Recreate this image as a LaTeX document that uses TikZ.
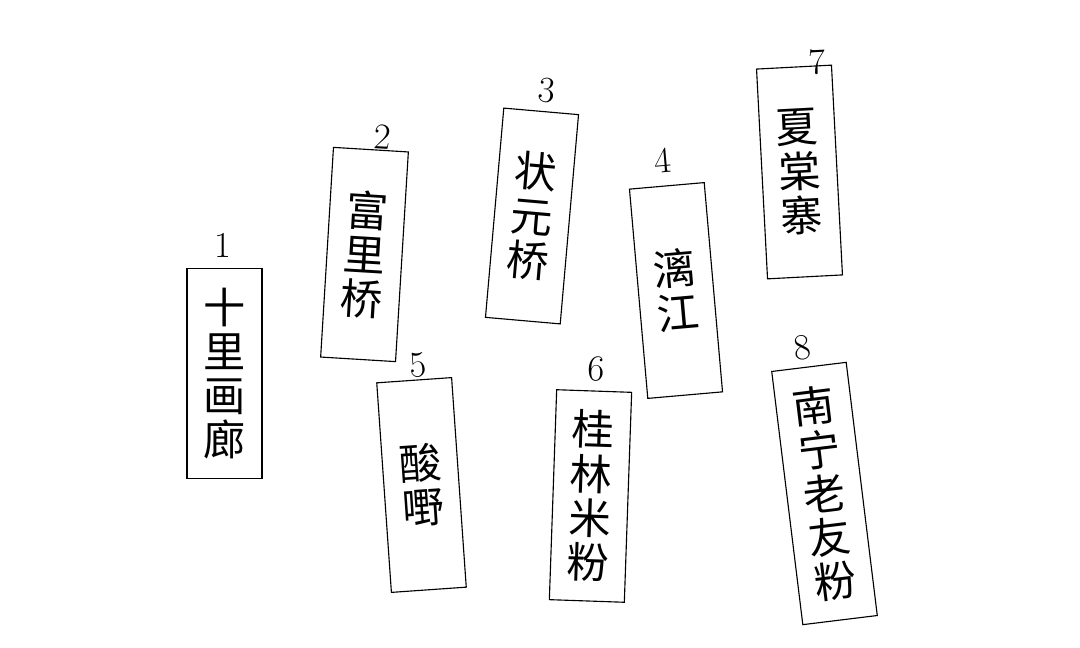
\documentclass[tikz,border=0pt]{standalone}
\usepackage{fontspec}
\newfontfamily\cjk{Noto Sans CJK SC}
\tikzset{
  tag/.style={draw, line width=0.8pt, minimum width=1.875cm, minimum height=5.25cm,
    inner sep=0pt, align=center, font=\cjk\fontsize{30}{31.5}\selectfont},
  num/.style={inner sep=0pt, font=\fontsize{26}{26}\selectfont},
}
\begin{document}
\begin{tikzpicture}[x=0.025cm, y=-0.025cm]
  \useasboundingbox (0,0) rectangle (1080,648);
  \node[tag] (b1) at (224.5,373.5) {十\\里\\画\\廊};
  \node[num] (n1) at (223,245) {1};
  \node[tag, rotate=-3.5] (b2) at (364.5,254.5) {富\\里\\桥};
  \node[num, rotate=-3.5] (n2) at (383,137) {2};
  \node[tag, rotate=-5] (b3) at (532,216) {状\\元\\桥};
  \node[num, rotate=-5] (n3) at (547,90) {3};
  \node[tag, rotate=5] (b4) at (676,290.5) {漓\\江};
  \node[num, rotate=5] (n4) at (663,161) {4};
  \node[tag, rotate=4] (b5) at (421.5,485) {酸\\嘢};
  \node[num, rotate=4] (n5) at (418,365) {5};
  \node[tag, rotate=-2] (b6) at (590.5,496) {桂\\林\\米\\粉};
  \node[num, rotate=-2] (n6) at (596,369) {6};
  \node[tag, rotate=3] (b7) at (799.5,172) {夏\\棠\\寨};
  \node[num, rotate=3] (n7) at (817,62) {7};
  \node[tag, rotate=7, minimum height=6.375cm] (b8) at (824.5,493.5) {南\\宁\\老\\友\\粉};
  \node[num, rotate=7] (n8) at (802,348) {8};
\end{tikzpicture}
\end{document}
